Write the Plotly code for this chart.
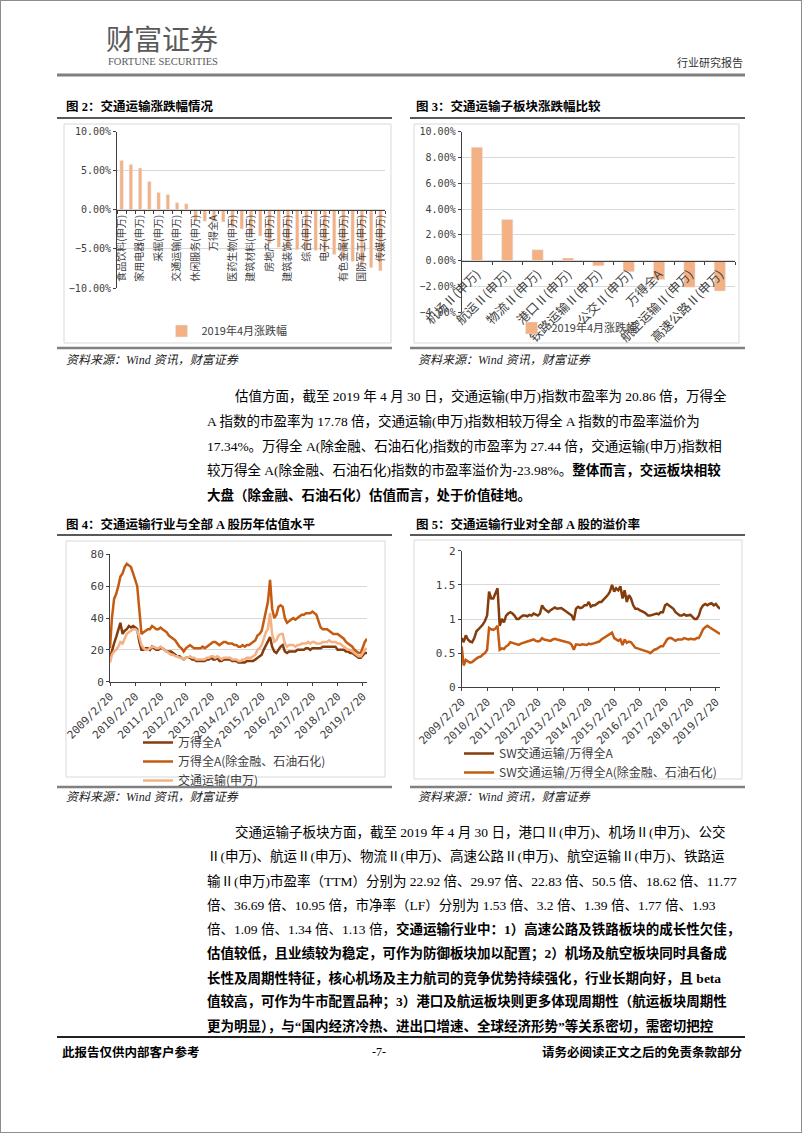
import pandas as pd
import plotly.graph_objects as go

W, H = 802, 1133

# ---- Figure 2: 2019-04 change by SW industry (%) ----
industry_cats = [
    "食品饮料(申万)", "银行(申万)", "家用电器(申万)", "非银金融(申万)", "采掘(申万)",
    "钢铁(申万)", "交通运输(申万)", "公用事业(申万)", "休闲服务(申万)", "汽车(申万)",
    "万得全A", "商业贸易(申万)", "医药生物(申万)", "化工(申万)", "建筑材料(申万)",
    "轻工制造(申万)", "房地产(申万)", "纺织服装(申万)", "建筑装饰(申万)", "电气设备(申万)",
    "综合(申万)", "机械设备(申万)", "电子(申万)", "计算机(申万)", "有色金属(申万)",
    "农林牧渔(申万)", "国防军工(申万)", "通信(申万)", "传媒(申万)",
]
industry_chg = [
    6.32, 5.81, 5.34, 3.63, 2.22, 1.97, 0.90, 0.77, -1.38, -1.45,
    -1.48, -1.55, -2.25, -2.45, -3.05, -3.35, -4.30, -4.80, -5.00, -5.10,
    -5.15, -5.20, -5.40, -5.70, -6.20, -6.60, -7.10, -7.40, -7.80,
]
# only every other category is labelled in the original
industry_ticks = [c if i % 2 == 0 else "" for i, c in enumerate(industry_cats)]

# ---- Figure 3: sub-sectors (%) ----
sub_cats = [
    "机场Ⅱ(申万)", "航运Ⅱ(申万)", "物流Ⅱ(申万)", "港口Ⅱ(申万)", "铁路运输Ⅱ(申万)",
    "公交Ⅱ(申万)", "万得全A", "航空运输Ⅱ(申万)", "高速公路Ⅱ(申万)",
]
sub_chg = [8.80, 3.20, 0.85, 0.20, -0.40, -0.85, -1.45, -2.05, -2.35]
bar_name = "2019年4月涨跌幅"

# ---- Figures 4 / 5: monthly readings, 2009-02 .. 2019-04 ----
months = pd.date_range("2009-02-01", "2019-04-01", freq="MS") + pd.Timedelta(days=19)

pe_wind_all = [
    15, 20, 24, 28, 32, 37, 30, 32, 33, 35, 34,
    35, 34, 33, 25, 20, 20, 21, 21, 20, 22, 21, 20,
    20, 21, 21, 20, 19, 19, 19, 18, 17, 16, 16, 15,
    14, 15, 15, 15, 14, 14, 13, 13, 13, 13, 13, 14,
    14, 15, 14, 14, 15, 13, 13, 14, 14, 14, 14, 13,
    13, 13, 12, 12, 12, 12, 13, 13, 13, 13, 14, 15,
    16, 17, 20, 23, 25, 28, 22, 19, 18, 20, 22, 23,
    19, 18, 19, 19, 19, 19, 20, 20, 20, 20, 21, 21,
    20, 21, 21, 21, 21, 21, 22, 22, 22, 22, 22, 22,
    22, 20, 20, 20, 20, 19, 19, 18, 18, 17, 16, 15,
    15, 17, 18, 18,
]
pe_wind_ex = [
    21, 40, 52, 55, 60, 66, 68, 72, 74, 73, 72,
    68, 64, 60, 45, 30, 31, 32, 33, 33, 35, 34, 33,
    33, 34, 33, 32, 31, 29, 28, 27, 26, 24, 22, 21,
    19, 21, 22, 23, 22, 21, 21, 21, 21, 22, 21, 22,
    23, 24, 25, 25, 24, 23, 24, 25, 25, 24, 24, 24,
    23, 23, 22, 22, 23, 22, 23, 23, 24, 25, 26, 29,
    30, 32, 37, 44, 50, 64, 46, 40, 42, 47, 48, 47,
    40, 37, 38, 39, 40, 39, 40, 41, 42, 42, 43, 43,
    43, 44, 43, 42, 38, 34, 33, 33, 33, 32, 31, 30,
    30, 30, 29, 28, 27, 25, 24, 23, 22, 20, 19, 18,
    18, 22, 25, 27,
]
pe_transport = [
    12, 17, 19, 20, 22, 25, 24, 27, 30, 31, 32,
    33, 33, 32, 28, 23, 21, 20, 20, 21, 22, 22, 21,
    21, 22, 21, 20, 19, 18, 17, 17, 16, 16, 15, 15,
    14, 15, 15, 16, 15, 15, 14, 14, 14, 14, 14, 15,
    15, 16, 16, 15, 16, 15, 14, 15, 15, 15, 15, 14,
    14, 14, 13, 13, 14, 14, 15, 15, 15, 16, 17, 20,
    21, 23, 27, 31, 33, 43, 30, 25, 26, 29, 30, 30,
    24, 22, 23, 23, 23, 22, 23, 23, 24, 24, 24, 25,
    24, 25, 25, 24, 24, 24, 25, 25, 25, 26, 25, 25,
    25, 24, 24, 23, 22, 21, 20, 20, 19, 18, 17, 16,
    16, 18, 20, 21,
]
prem_all = [
    0.72, 0.66, 0.76, 0.70, 0.67, 0.66, 0.72, 0.82, 0.85, 0.88, 0.92,
    0.97, 1.05, 1.40, 1.30, 1.30, 1.38, 1.45, 0.90, 1.00, 0.95, 1.05, 1.08,
    1.10, 1.08, 1.05, 1.00, 1.00, 1.03, 1.05, 1.05, 1.04, 1.06, 1.05, 1.08,
    1.07, 1.05, 1.08, 1.20, 1.15, 1.12, 1.10, 1.13, 1.15, 1.17, 1.15, 1.15,
    1.16, 1.14, 1.12, 1.10, 1.08, 1.05, 0.98, 1.15, 1.18, 1.16, 1.17, 1.20,
    1.20, 1.25, 1.18, 1.20, 1.20, 1.22, 1.25, 1.25, 1.28, 1.32, 1.35, 1.40,
    1.50, 1.40, 1.45, 1.42, 1.48, 1.30, 1.42, 1.25, 1.35, 1.30, 1.20, 1.15,
    1.15, 1.13, 1.12, 1.10, 1.08, 1.05, 1.05, 1.06, 1.08, 1.08, 1.07, 1.10,
    1.10, 1.20, 1.22, 1.20, 1.18, 1.15, 1.10, 1.08, 1.05, 1.05, 1.07, 1.05,
    1.05, 1.06, 1.03, 1.00, 1.00, 1.05, 1.15, 1.20, 1.22, 1.20, 1.22, 1.23,
    1.20, 1.22, 1.18, 1.15,
]
prem_ex = [
    0.60, 0.32, 0.40, 0.38, 0.36, 0.37, 0.40, 0.42, 0.44, 0.45, 0.48,
    0.50, 0.55, 0.87, 0.85, 0.84, 0.86, 0.90, 0.55, 0.57, 0.56, 0.60, 0.62,
    0.66, 0.65, 0.64, 0.62, 0.62, 0.64, 0.65, 0.66, 0.67, 0.68, 0.68, 0.70,
    0.68, 0.67, 0.68, 0.72, 0.70, 0.69, 0.68, 0.68, 0.70, 0.71, 0.70, 0.69,
    0.68, 0.68, 0.67, 0.66, 0.65, 0.62, 0.55, 0.63, 0.62, 0.62, 0.63, 0.62,
    0.62, 0.64, 0.63, 0.64, 0.65, 0.66, 0.67, 0.70, 0.72, 0.74, 0.76, 0.78,
    0.80, 0.72, 0.70, 0.68, 0.70, 0.62, 0.70, 0.65, 0.67, 0.66, 0.62, 0.58,
    0.57, 0.56, 0.55, 0.55, 0.54, 0.52, 0.50, 0.53, 0.55, 0.56, 0.58, 0.60,
    0.60, 0.65, 0.70, 0.72, 0.72, 0.70, 0.68, 0.70, 0.70, 0.70, 0.72, 0.71,
    0.70, 0.71, 0.70, 0.70, 0.72, 0.72, 0.78, 0.85, 0.88, 0.90, 0.88, 0.86,
    0.84, 0.82, 0.80, 0.78,
]
year_ticks = ["2009/2/20", "2010/2/20", "2011/2/20", "2012/2/20", "2013/2/20", "2014/2/20",
              "2015/2/20", "2016/2/20", "2017/2/20", "2018/2/20", "2019/2/20"]

assert len(months) == len(pe_wind_all) == len(pe_wind_ex) == len(pe_transport) == len(prem_all) == len(prem_ex)

# ---- styling ----
DARK, ORANGE, PEACH = "#843C0C", "#C55A11", "#F4B183"
GRID, AXIS, TICK = "#D9D9D9", "#404040", "#404040"
SANS = "Noto Sans CJK SC"
MONO = "DejaVu Sans Mono"
BODY = "Liberation Serif, Noto Sans CJK SC"
BODY_SIZE = 13.5


def px(x):
    return x / W


def py(y):
    return 1 - y / H


fig = go.Figure()
fig.add_trace(go.Bar(x=industry_cats, y=industry_chg, name=bar_name, marker_color=PEACH,
                     xaxis="x", yaxis="y", legend="legend"))
fig.add_trace(go.Bar(x=sub_cats, y=sub_chg, name=bar_name, marker_color=PEACH,
                     xaxis="x2", yaxis="y2", legend="legend2"))

for name, ys, color in [("万得全A", pe_wind_all, DARK),
                        ("万得全A(除金融、石油石化)", pe_wind_ex, ORANGE),
                        ("交通运输(申万)", pe_transport, PEACH)]:
    fig.add_trace(go.Scatter(x=months, y=ys, name=name, mode="lines",
                             line=dict(color=color, width=2.5),
                             xaxis="x3", yaxis="y3", legend="legend3"))

for name, ys, color in [("SW交通运输/万得全A", prem_all, DARK),
                        ("SW交通运输/万得全A(除金融、石油石化)", prem_ex, ORANGE)]:
    fig.add_trace(go.Scatter(x=months, y=ys, name=name, mode="lines",
                             line=dict(color=color, width=2.5),
                             xaxis="x4", yaxis="y4", legend="legend4"))

ytick = dict(showgrid=True, gridcolor=GRID, gridwidth=1, showline=True, linecolor=AXIS,
             ticks="outside", ticklen=3, tickcolor=AXIS, zeroline=False, automargin=False,
             tickfont=dict(family=MONO, size=10, color=TICK))
date_ticks = [pd.Timestamp(t.replace("/", "-")) for t in year_ticks]
xdate = dict(type="date", range=[months[0], months[-1]], tickmode="array",
             tickvals=date_ticks, ticktext=year_ticks, tickangle=-45, automargin=False,
             showgrid=False, showline=True, linecolor=AXIS, ticks="outside",
             ticklen=3, tickcolor=AXIS, tickfont=dict(family=MONO, size=11, color=TICK))

fig.update_layout(
    width=W, height=H, margin=dict(l=0, r=0, t=0, b=0, autoexpand=False),
    paper_bgcolor="white", plot_bgcolor="white",
    bargap=0.63, showlegend=True,
    xaxis=dict(domain=[px(117), px(385)], type="category", anchor="free", position=py(209.9),
               tickmode="array", tickvals=industry_cats, ticktext=industry_ticks, tickangle=-90,
               tickson="boundaries", ticks="outside", ticklen=3, tickcolor=AXIS, automargin=False,
               showline=True, linecolor=AXIS, showgrid=False,
               tickfont=dict(family=SANS, size=10, color=TICK)),
    yaxis=dict(domain=[py(288), py(131.7)], anchor="x", range=[-10, 10], dtick=5,
               tickformat=".2f", ticksuffix="%", **ytick),
    xaxis2=dict(domain=[px(461.7), px(735)], type="category", anchor="free", position=py(261),
                tickangle=-45, tickson="boundaries", ticks="outside", ticklen=3, tickcolor=AXIS,
                showline=True, linecolor=AXIS, showgrid=False, automargin=False,
                tickfont=dict(family=SANS, size=12.5, color=TICK)),
    yaxis2=dict(domain=[py(312.3), py(131.7)], anchor="x2", range=[-4, 10], dtick=2,
                tickformat=".2f", ticksuffix="%", **ytick),
    xaxis3=dict(domain=[px(110), px(367)], anchor="y3", **xdate),
    yaxis3=dict(domain=[py(681.7), py(554.3)], anchor="x3", range=[0, 80], dtick=20,
                **{**ytick, "tickfont": dict(family=MONO, size=11, color=TICK)}),
    xaxis4=dict(domain=[px(461.7), px(720)], anchor="y4", **xdate),
    yaxis4=dict(domain=[py(687.3), py(550.7)], anchor="x4", range=[0, 2], dtick=0.5,
                **{**ytick, "tickfont": dict(family=MONO, size=11, color=TICK)}),
    legend=dict(orientation="h", x=px(227), y=py(331), xanchor="center", yanchor="middle",
                bgcolor="rgba(0,0,0,0)", font=dict(family=SANS, size=11, color="#404040")),
    legend2=dict(orientation="h", x=px(577), y=py(328), xanchor="center", yanchor="middle",
                 bgcolor="rgba(0,0,0,0)", font=dict(family=SANS, size=11, color="#404040")),
    legend3=dict(orientation="v", x=px(138), y=py(728), xanchor="left", yanchor="top",
                 bgcolor="rgba(0,0,0,0)", font=dict(family=SANS, size=12, color="#404040")),
    legend4=dict(orientation="v", x=px(459), y=py(739), xanchor="left", yanchor="top",
                 bgcolor="rgba(0,0,0,0)", font=dict(family=SANS, size=12, color="#404040")),
)

# ---- page furniture (paper coordinates) ----
def hline(x0, x1, y, color, width):
    return dict(type="line", xref="paper", yref="paper", x0=px(x0), x1=px(x1), y0=py(y), y1=py(y),
                line=dict(color=color, width=width))


shapes = [
    dict(type="rect", xref="paper", yref="paper", x0=0, x1=1, y0=0, y1=1,
         line=dict(color="#8c8c8c", width=2)),
    hline(57, 745, 75, "#7f7f7f", 3),
    hline(57, 745, 1037, "#222", 2),
]
for y_title, y_bottom in [(118, 348), (535, 787)]:
    for x0, x1 in [(57, 392), (410, 745)]:
        shapes.append(hline(x0, x1, y_title, "#222", 1.5))
        shapes.append(hline(x0, x1, y_bottom, "#808080", 2.5))
for x0, y0, x1, y1 in [(64, 124, 391, 343), (414, 124, 739, 343), (66, 541, 385, 777), (414, 540, 742, 779)]:
    shapes.append(dict(type="rect", xref="paper", yref="paper", x0=px(x0), x1=px(x1),
                       y0=py(y1), y1=py(y0), line=dict(color=GRID, width=1)))
fig.update_layout(shapes=shapes)


def text(x, y, s, size=BODY_SIZE, family=BODY, color="#000", anchor="left", italic=False):
    fig.add_annotation(x=px(x), y=py(y), xref="paper", yref="paper", text=s, showarrow=False,
                       xanchor=anchor, yanchor="middle",
                       font=dict(family=family, size=size, color=color,
                                 style="italic" if italic else "normal"))


text(104, 38, "财富证券", size=28, family=SANS, color="#5a5a5a")
text(106, 61, "FORTUNE SECURITIES", size=10.5, family="Liberation Serif", color="#5a5a5a")
text(745, 62, "行业研究报告", size=11, family=SANS, color="#333", anchor="right")

text(64, 107, "<b>图 2：交通运输涨跌幅情况</b>", size=12.5)
text(414, 107, "<b>图 3：交通运输子板块涨跌幅比较</b>", size=12.5)
text(64, 524, "<b>图 4：交通运输行业与全部 A 股历年估值水平</b>", size=12.5)
text(414, 524, "<b>图 5：交通运输行业对全部 A 股的溢价率</b>", size=12.5)
for x in (64, 416):
    text(x, 360, "资料来源：Wind 资讯，财富证券", size=12, italic=True, color="#222")
    text(x, 797, "资料来源：Wind 资讯，财富证券", size=12, italic=True, color="#222")

para1 = [
    "估值方面，截至 2019 年 4 月 30 日，交通运输(申万)指数市盈率为 20.86 倍，万得全",
    "A 指数的市盈率为 17.78 倍，交通运输(申万)指数相较万得全 A 指数的市盈率溢价为",
    "17.34%。万得全 A(除金融、石油石化)指数的市盈率为 27.44 倍，交通运输(申万)指数相",
    "较万得全 A(除金融、石油石化)指数的市盈率溢价为-23.98%。<b>整体而言，交运板块相较</b>",
    "<b>大盘（除金融、石油石化）估值而言，处于价值硅地。</b>",
]
para2 = [
    "交通运输子板块方面，截至 2019 年 4 月 30 日，港口Ⅱ(申万)、机场Ⅱ(申万)、公交",
    "Ⅱ(申万)、航运Ⅱ(申万)、物流Ⅱ(申万)、高速公路Ⅱ(申万)、航空运输Ⅱ(申万)、铁路运",
    "输Ⅱ(申万)市盈率（TTM）分别为 22.92 倍、29.97 倍、22.83 倍、50.5 倍、18.62 倍、11.77",
    "倍、36.69 倍、10.95 倍，市净率（LF）分别为 1.53 倍、3.2 倍、1.39 倍、1.77 倍、1.93",
    "倍、1.09 倍、1.34 倍、1.13 倍，<b>交通运输行业中：1）高速公路及铁路板块的成长性欠佳，</b>",
    "<b>估值较低，且业绩较为稳定，可作为防御板块加以配置；2）机场及航空板块同时具备成</b>",
    "<b>长性及周期性特征，核心机场及主力航司的竞争优势持续强化，行业长期向好，且 beta</b>",
    "<b>值较高，可作为牛市配置品种；3）港口及航运板块则更多体现周期性（航运板块周期性</b>",
    "<b>更为明显），与“国内经济冷热、进出口增速、全球经济形势”等关系密切，需密切把控</b>",
]
for i, line in enumerate(para1):
    text(233 if i == 0 else 205, 396 + i * 24.8, line)
for i, line in enumerate(para2):
    text(233 if i == 0 else 205, 832 + i * 24.25, line)

text(60, 1052, "<b>此报告仅供内部客户参考</b>", size=12.5)
text(370, 1052, "-7-", size=12, family="Liberation Serif")
text(745, 1052, "<b>请务必阅读正文之后的免责条款部分</b>", size=12.5, anchor="right")

fig.write_html("out.html", config={"displayModeBar": False},
               post_script="document.body.style.margin = '0px';")
